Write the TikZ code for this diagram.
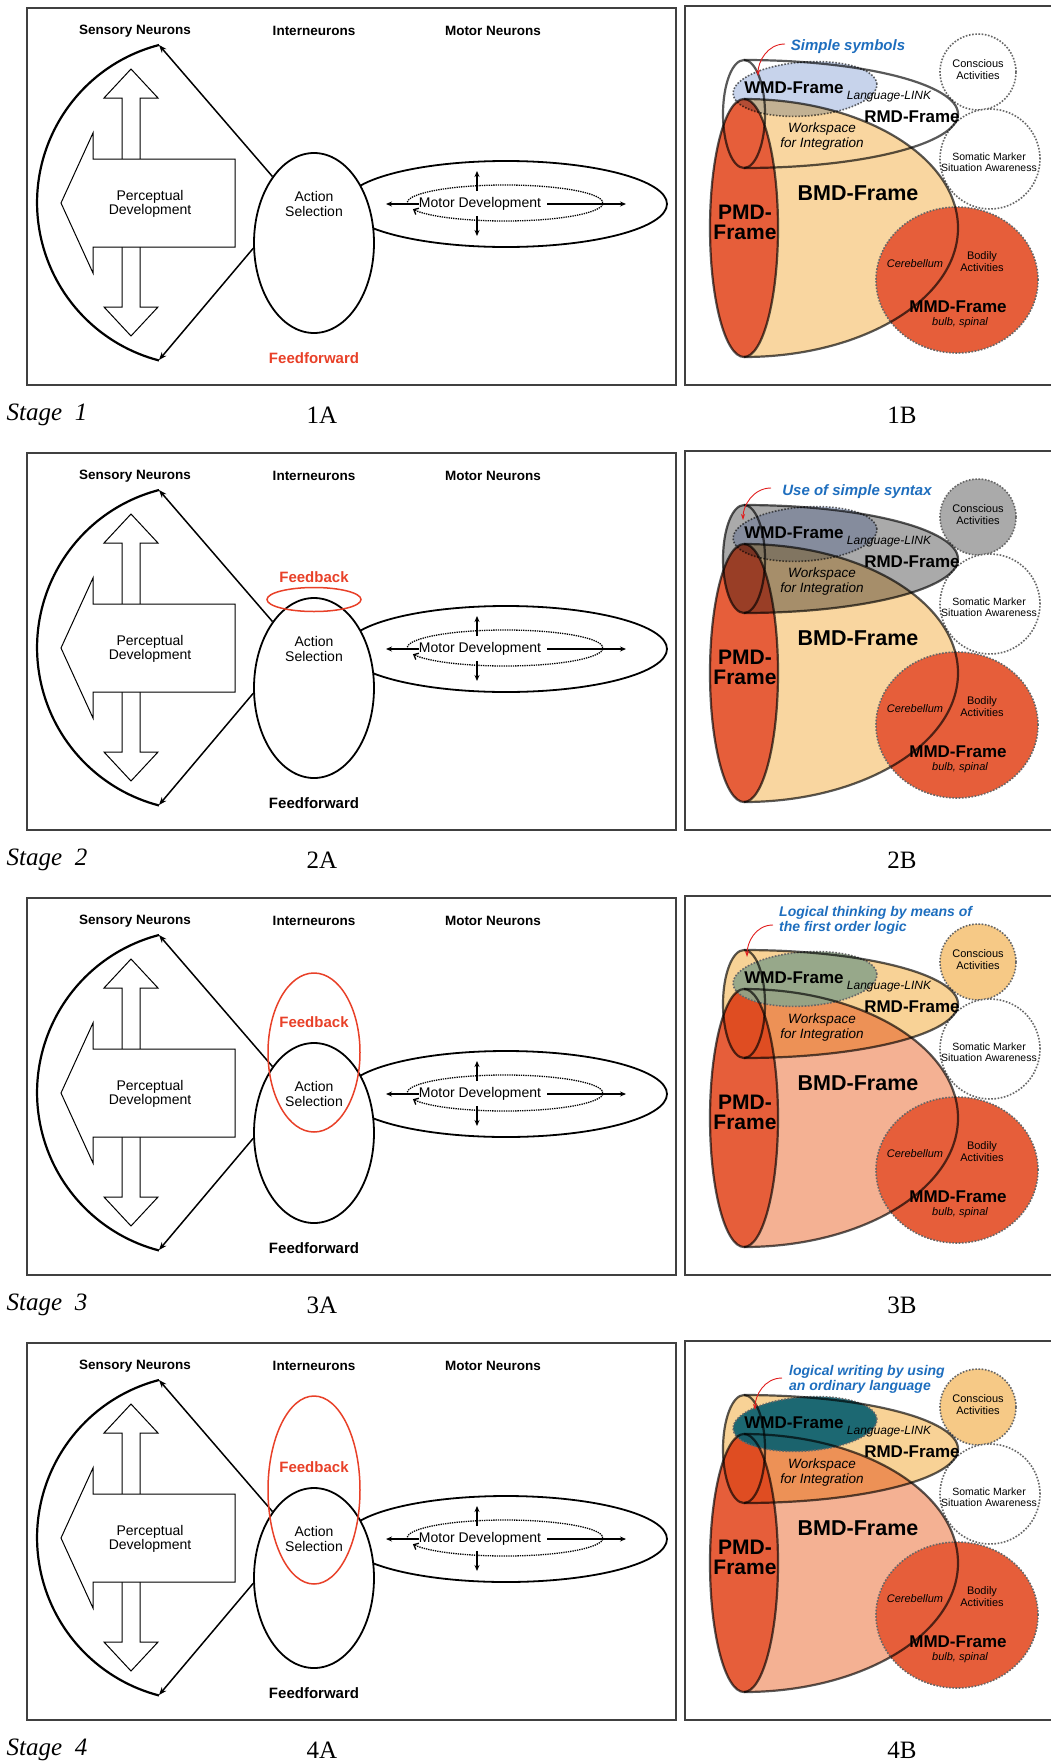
\documentclass[tikz,border=0pt]{standalone}
\usepackage{fontspec}
\setmainfont{Liberation Sans}
\newfontfamily\timesfont{Liberation Serif}
\usetikzlibrary{arrows.meta,shapes.geometric}

\definecolor{ffred}{RGB}{232,64,40}
\definecolor{pmdred}{RGB}{230,94,58}
\definecolor{bmdtan}{RGB}{249,214,160}
\definecolor{bmdsalmon}{RGB}{244,177,147}
\definecolor{wmdblue}{RGB}{195,208,234}
\definecolor{wmdgreen}{RGB}{143,165,138}
\definecolor{wmdteal}{RGB}{10,96,112}
\definecolor{rmdgray}{RGB}{170,170,170}
\definecolor{rmdorange}{RGB}{248,210,150}
\definecolor{consorange}{RGB}{246,201,134}
\definecolor{labelblue}{RGB}{30,110,190}
\definecolor{linkred}{RGB}{225,30,30}

\begin{document}
\begin{tikzpicture}[x=1pt,y=-1pt,
    every node/.style={inner sep=0pt},
    frame/.style={draw=black!75, line width=1.2pt},
    hdr/.style={font=\bfseries\fontsize{13.5}{15}\selectfont},
    plain/.style={font=\fontsize{14}{14.5}\selectfont, align=center},
    ffont/.style={font=\bfseries\fontsize{15}{15}\selectfont},
    blockarrow/.style={draw=black, fill=white, line width=1pt},
    bow/.style={line width=2.2pt},
    oval/.style={ellipse, draw, line width=1.8pt},
    blob/.style={ellipse},
    feedline/.style={line width=1.5pt, -{Stealth[length=8pt,width=6pt]}},
    motorarrow/.style={line width=1.4pt, -{Stealth[length=6pt,width=5pt]}},
    dotline/.style={densely dotted, line width=1.3pt},
    stagelab/.style={font=\timesfont\itshape\fontsize{25}{25}\selectfont},
    panellab/.style={font=\timesfont\fontsize{25}{25}\selectfont},
    rim/.style={draw=black, draw opacity=0.65, line width=2.2pt},
    dotrim/.style={draw=black!60, line width=1.6pt, dash pattern=on 1.6pt off 1.6pt},
    bigname/.style={font=\bfseries\fontsize{21.5}{20}\selectfont, align=center},
    framename/.style={font=\bfseries\fontsize{17}{17}\selectfont},
    note/.style={font=\itshape\fontsize{12}{13}\selectfont, align=center},
    small/.style={font=\fontsize{11}{12}\selectfont, align=center},
    bluelab/.style={font=\bfseries\itshape\fontsize{15}{15}\selectfont, text=labelblue, align=left},
    linkarrow/.style={draw=linkred, line width=0.9pt, -{Stealth[length=6pt,width=4pt]}}]

\useasboundingbox (0,0) rectangle (1051,1764);

\foreach \r/\ffc/\bmd/\rmd/\wmd/\bm/\cons in
  {0/ffred/bmdtan/white/wmdblue/multiply/white,
   1/black/bmdtan/rmdgray/wmdblue/multiply/rmdgray,
   2/black/bmdsalmon/rmdorange/wmdgreen/normal/consorange,
   3/black/bmdsalmon/rmdorange/wmdteal/normal/consorange}{
\pgfmathtruncatemacro{\stg}{\r+1}
\begin{scope}[shift={(0,445*\r)}]
  % left panel: neurons
  \draw[frame] (27,8) rectangle (676,385);
  \node[hdr] (sn\r) at (135,31) {Sensory Neurons};
  \node[hdr] (in\r) at (314,31) {Interneurons};
  \node[hdr] (mn\r) at (493,31) {Motor Neurons};
  \draw[blockarrow] (131,69) -- (158,98) -- (140,98) -- (140,307) -- (158,307) -- (131,336)
    -- (104,307) -- (122,307) -- (122,98) -- (104,98) -- cycle;
  \draw[blockarrow] (61,203) -- (93,133) -- (93,159) -- (235,159) -- (235,247) -- (93,247) -- (93,273) -- cycle;
  \node[plain] (pd\r) at (150,204) {Perceptual\\Development};
  \coordinate (st\r) at (159,45);
  \coordinate (sb\r) at (159,360);
  \draw[bow] (st\r) arc[start angle=255.4, end angle=104.6, radius=163];
  \node[oval, minimum width=322pt, minimum height=86pt] (mo\r) at (506,204) {};
  \node[oval, fill=white, minimum width=120pt, minimum height=180pt] (as\r) at (314,243) {};
  \draw[dotline, -{Straight Barb[length=4pt,width=7pt]}] (505,203) ++(-185:98 and 18)
    arc[start angle=-185, end angle=160, x radius=98, y radius=18];
  \node[plain] (md\r) at (480,204) {Motor Development};
  \coordinate (ml\r) at (386,204);
  \coordinate (mr\r) at (626,204);
  \coordinate (mus\r) at (477,191);
  \coordinate (mu\r) at (477,171);
  \coordinate (mds\r) at (477,216);
  \coordinate (mdn\r) at (477,236);
  \draw[motorarrow] (md\r.west) -- (ml\r);
  \draw[motorarrow] ([xshift=6pt]md\r.east) -- (mr\r);
  \draw[motorarrow] (mus\r) -- (mu\r);
  \draw[motorarrow] (mds\r) -- (mdn\r);
  \draw[feedline] (as\r.122) -- (st\r);
  \draw[feedline] (as\r.185) -- (sb\r);
  \node[plain] (ast\r) at (314,204) {Action\\Selection};
  \node[ffont, text=\ffc] (ff\r) at (314,358) {Feedforward};
  \ifcase\r
  \or
    \node[oval, draw=ffred, line width=1.5pt, minimum width=94pt, minimum height=24pt] (fb\r) at (314,154.5) {};
    \node[ffont, text=ffred] (fbt\r) at (314,132) {Feedback};
  \or
    \node[oval, draw=ffred, line width=1.5pt, minimum width=92pt, minimum height=159pt] (fb\r) at (314,162.5) {};
    \node[ffont, text=ffred] (fbt\r) at (314,132) {Feedback};
  \or
    \node[oval, draw=ffred, line width=1.5pt, minimum width=92pt, minimum height=188pt] (fb\r) at (314,155) {};
    \node[ffont, text=ffred] (fbt\r) at (314,132) {Feedback};
  \fi
  \node[stagelab] (sg\r) at (47,415) {Stage~~\stg};
  \node[panellab] (pa\r) at (322,415) {\stg A};
  \node[panellab] (pb\r) at (902,415) {\stg B};

  % right panel: frames
  \draw[frame] (685,6) rectangle (1062,385);
  \fill[\bmd] (744,99) arc[start angle=-90, end angle=90, x radius=214, y radius=129] -- cycle;
  \node[blob, fill=pmdred, minimum width=68pt, minimum height=258pt] (pmd\r) at (744,228) {};
  \node[blob, dotrim, fill=pmdred, minimum width=162pt, minimum height=146pt] (mmd\r) at (957,280) {};
  \begin{scope}[blend mode=multiply]
    \fill[\rmd] (744,60) arc[start angle=-90, end angle=90, x radius=214, y radius=54]
      arc[start angle=90, end angle=270, x radius=21, y radius=54] -- cycle;
  \end{scope}
  \begin{scope}[blend mode=\bm]
    \node[blob, dotrim, fill=\wmd, fill opacity=0.92, rotate=4, minimum width=144pt, minimum height=54pt] (wmd\r) at (805,89) {};
  \end{scope}
  \node[blob, dotrim, fill=\cons, minimum size=76pt] (cons\r) at (978,72) {};
  \node[blob, dotrim, fill=white, minimum size=100pt] (soma\r) at (990,159) {};
  \draw[rim] (744,99) arc[start angle=-90, end angle=90, x radius=214, y radius=129];
  \draw[rim] (744,228) ellipse[x radius=34, y radius=129];
  \draw[rim] (744,60) arc[start angle=-90, end angle=90, x radius=214, y radius=54];
  \draw[rim] (744,114) ellipse[x radius=21, y radius=54];
  \ifcase\r
    \node[bluelab] (lab\r) at (848,47) {Simple symbols};
    \coordinate (ls\r) at (785,44);
    \coordinate (le\r) at (758,76);
  \or
    \node[bluelab] (lab\r) at (857,47) {Use of simple syntax};
    \coordinate (ls\r) at (771,43);
    \coordinate (le\r) at (743,75);
  \or
    \node[bluelab, anchor=west, font=\bfseries\itshape\fontsize{14}{15}\selectfont] (lab\r) at (779,30.5)
      {Logical thinking by means of\\the first order logic};
    \coordinate (ls\r) at (773,35);
    \coordinate (le\r) at (747,67);
  \or
    \node[bluelab, anchor=west, font=\bfseries\itshape\fontsize{14}{15}\selectfont] (lab\r) at (789,44.5)
      {logical writing by using\\an ordinary language};
    \coordinate (ls\r) at (782,43);
    \coordinate (le\r) at (755,75);
  \fi
  \draw[linkarrow] (ls\r) .. controls +(-18,0) and +(0,-14) .. (le\r);
  \node[framename] (wmdt\r) at (794,88) {WMD-Frame};
  \node[note] (link\r) at (889,97) {Language-LINK};
  \node[framename] (rmdt\r) at (912,117) {RMD-Frame};
  \node[note, font=\itshape\fontsize{13.5}{15}\selectfont] (work\r) at (822,137) {Workspace\\for Integration};
  \node[bigname] (bmdt\r) at (858,193) {BMD-Frame};
  \node[bigname, font=\bfseries\fontsize{21}{20}\selectfont] (pmdt\r) at (745,222) {PMD-\\Frame};
  \node[note, font=\itshape\fontsize{11}{12}\selectfont] (cere\r) at (915,264) {Cerebellum};
  \node[small] (body\r) at (982,262) {Bodily\\Activities};
  \node[framename] (mmdt\r) at (958,307) {MMD-Frame};
  \node[note, font=\itshape\fontsize{11}{12}\selectfont] (spin\r) at (960,323) {bulb, spinal};
  \node[small] (cont\r) at (978,70) {Conscious\\Activities};
  \node[small, font=\fontsize{10.5}{11.5}\selectfont] (somt\r) at (989,162) {Somatic Marker\\Situation Awareness};
\end{scope}
}
\end{tikzpicture}
\end{document}
